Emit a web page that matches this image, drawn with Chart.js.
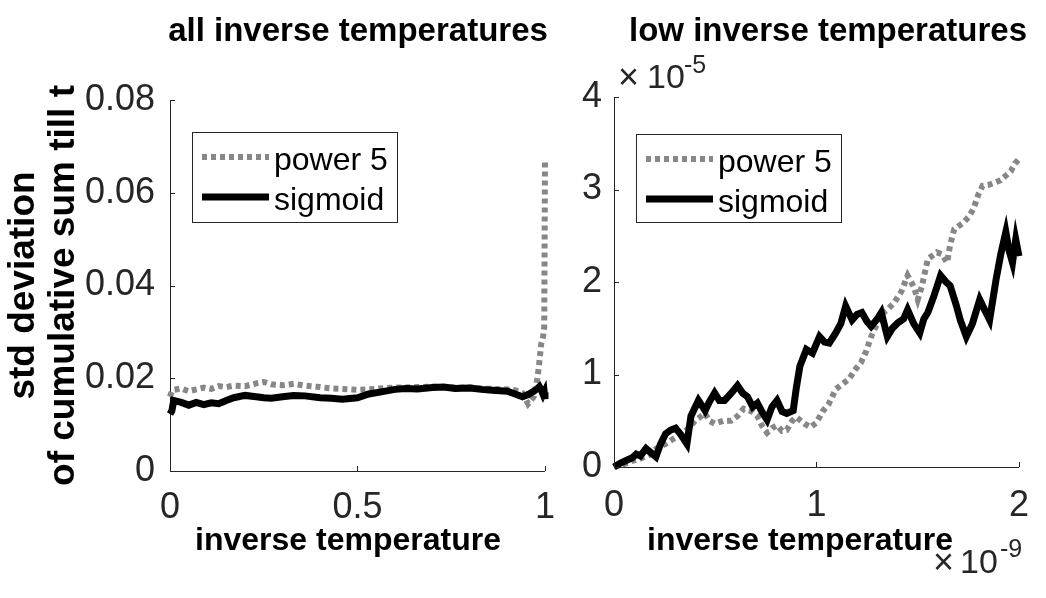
<!DOCTYPE html>
<html>
<head>
<meta charset="utf-8">
<script src="https://cdn.jsdelivr.net/npm/chart.js@4.4.1/dist/chart.umd.min.js"></script>
<style>
  html, body { margin: 0; padding: 0; background: #fff; }
  #wrap { position: relative; width: 1046px; height: 598px; overflow: hidden; }
  #wrap canvas { position: absolute; top: 0; }
  #chartAll { left: 0; }
  #chartLow { left: 570px; }
</style>
</head>
<body>
<div id="wrap">
  <canvas id="chartAll" width="570" height="598"></canvas>
  <canvas id="chartLow" width="476" height="598"></canvas>
</div>
<script>
// left panel: all inverse temperatures
const allBeta = [0, 0.005, 0.01, 0.03, 0.05, 0.07, 0.09, 0.11, 0.13, 0.15, 0.17, 0.2, 0.23, 0.25, 0.27,
  0.3, 0.33, 0.36, 0.4, 0.43, 0.46, 0.5, 0.53, 0.56, 0.6, 0.63, 0.66, 0.7, 0.73, 0.76, 0.8, 0.83, 0.86,
  0.9, 0.92, 0.94, 0.955, 0.97, 0.98, 0.985, 0.99, 0.995, 0.998, 1.0];
const allPower5 = [0.0160, 0.0172, 0.0175, 0.0178, 0.0172, 0.0176, 0.0180, 0.0177, 0.0183, 0.0181, 0.0184,
  0.0183, 0.0189, 0.0192, 0.0187, 0.0185, 0.0188, 0.0184, 0.0181, 0.0178, 0.0177, 0.0175, 0.0176, 0.0178,
  0.0180, 0.0180, 0.0181, 0.0182, 0.0181, 0.0180, 0.0180, 0.0178, 0.0177, 0.0176, 0.0174, 0.0168, 0.0145,
  0.0160, 0.0200, 0.0235, 0.0275, 0.0290, 0.0310, 0.0665];
const allSigmoid = [0.0123, 0.0130, 0.0152, 0.0148, 0.0142, 0.0148, 0.0143, 0.0147, 0.0145, 0.0152, 0.0158,
  0.0163, 0.0160, 0.0158, 0.0157, 0.0160, 0.0163, 0.0162, 0.0158, 0.0157, 0.0155, 0.0158, 0.0166, 0.0170,
  0.0176, 0.0178, 0.0177, 0.0180, 0.0181, 0.0178, 0.0179, 0.0176, 0.0174, 0.0172, 0.0166, 0.0160, 0.0165,
  0.0172, 0.0178, 0.0182, 0.0175, 0.0165, 0.0170, 0.0155];
const allXTicks = [0, 0.5, 1];
const allYTicks = [0, 0.02, 0.04, 0.06, 0.08];

// right panel: low inverse temperatures (x in 1e-9, y in 1e-5)
const lowPowerBeta = [0, 0.06, 0.094, 0.13, 0.175, 0.21, 0.255, 0.29, 0.336, 0.37, 0.40, 0.45, 0.47, 0.497,
  0.54, 0.578, 0.61, 0.64, 0.68, 0.708, 0.73, 0.756, 0.78, 0.805, 0.83, 0.853, 0.88, 0.90, 0.94, 0.97, 1.0,
  1.03, 1.06, 1.095, 1.13, 1.16, 1.19, 1.22, 1.245, 1.27, 1.3, 1.32, 1.35, 1.385, 1.42, 1.45, 1.48, 1.5,
  1.52, 1.55, 1.595, 1.62, 1.645, 1.66, 1.68, 1.725, 1.75, 1.775, 1.8, 1.82, 1.85, 1.887, 1.91, 1.935,
  1.96, 1.98, 2.0];
const lowPower5 = [0, 0.04, 0.07, 0.09, 0.13, 0.2, 0.25, 0.3, 0.36, 0.42, 0.5, 0.58, 0.5, 0.47,
  0.5, 0.5, 0.55, 0.63, 0.6, 0.55, 0.45, 0.37, 0.42, 0.45, 0.39, 0.4, 0.5, 0.54, 0.47, 0.43, 0.48,
  0.6, 0.68, 0.84, 0.9, 0.95, 1.05, 1.13, 1.25, 1.41, 1.55, 1.65, 1.7, 1.78, 1.9, 2.07, 1.95, 1.81,
  1.95, 2.25, 2.32, 2.3, 2.21, 2.4, 2.57, 2.64, 2.7, 2.79, 2.95, 3.04, 3.05, 3.08, 3.1, 3.15,
  3.2, 3.28, 3.33];
const lowSigmoidBeta = [0, 0.03, 0.06, 0.09, 0.11, 0.13, 0.158, 0.18, 0.207, 0.23, 0.255, 0.28, 0.304, 0.33,
  0.36, 0.38, 0.417, 0.45, 0.47, 0.497, 0.52, 0.546, 0.58, 0.61, 0.635, 0.659, 0.685, 0.708, 0.73, 0.756,
  0.78, 0.805, 0.83, 0.853, 0.885, 0.9, 0.918, 0.95, 0.98, 1.015, 1.04, 1.063, 1.095, 1.12, 1.144, 1.176,
  1.2, 1.224, 1.25, 1.27, 1.3, 1.32, 1.35, 1.375, 1.402, 1.43, 1.45, 1.48, 1.51, 1.53, 1.55, 1.58, 1.613,
  1.64, 1.66, 1.69, 1.71, 1.74, 1.77, 1.806, 1.83, 1.855, 1.887, 1.91, 1.935, 1.95, 1.968, 1.984, 2.0];
const lowSigmoid = [0, 0.04, 0.07, 0.1, 0.14, 0.12, 0.2, 0.16, 0.11, 0.25, 0.36, 0.4, 0.42, 0.35,
  0.25, 0.55, 0.72, 0.61, 0.7, 0.8, 0.72, 0.72, 0.8, 0.88, 0.8, 0.76, 0.65, 0.69, 0.6, 0.51,
  0.65, 0.72, 0.6, 0.58, 0.61, 0.85, 1.09, 1.27, 1.23, 1.41, 1.35, 1.34, 1.45, 1.55, 1.74, 1.59,
  1.65, 1.67, 1.57, 1.52, 1.6, 1.67, 1.41, 1.5, 1.56, 1.6, 1.7, 1.55, 1.45, 1.6, 1.67, 1.85, 2.07,
  2.0, 1.96, 1.75, 1.59, 1.41, 1.55, 1.81, 1.7, 1.59, 2.03, 2.3, 2.54, 2.35, 2.21, 2.46, 2.28];
const lowXTicks = [0, 1, 2];
const lowYTicks = [0, 1, 2, 3, 4];

const seriesNames = ['power 5', 'sigmoid'];
const GRAY = '#878787';
const AXIS = '#262626';
const FAMILY = '"Liberation Sans", Arial, Helvetica, sans-serif';

Chart.defaults.font.family = FAMILY;
Chart.defaults.color = AXIS;

const toPoints = (xs, ys) => xs.map((x, i) => ({ x: x, y: ys[i] }));

// inward tick marks, boxed legend and free text (titles, labels, exponents)
const matlabLook = {
  id: 'matlabLook',
  afterDatasetsDraw(chart, args, opts) {
    const ctx = chart.ctx;
    const area = chart.chartArea;
    const xs = chart.scales.x, ys = chart.scales.y;
    ctx.save();
    ctx.strokeStyle = AXIS;
    ctx.lineWidth = 1;
    ctx.beginPath();
    xs.ticks.forEach(t => {
      const p = Math.round(xs.getPixelForValue(t.value)) + 0.5;
      ctx.moveTo(p, area.bottom);
      ctx.lineTo(p, area.bottom - 5);
    });
    ys.ticks.forEach(t => {
      const p = Math.round(ys.getPixelForValue(t.value)) + 0.5;
      ctx.moveTo(area.left, p);
      ctx.lineTo(area.left + 5, p);
    });
    ctx.stroke();
    ctx.restore();
  },
  afterDraw(chart, args, opts) {
    const ctx = chart.ctx;
    const area = chart.chartArea;
    ctx.save();
    // legend box
    const lg = opts.legend;
    const bx = area.left + lg.dx, by = area.top + lg.dy;
    ctx.fillStyle = '#fff';
    ctx.fillRect(bx, by, lg.w, lg.h);
    ctx.strokeStyle = AXIS;
    ctx.lineWidth = 1;
    ctx.strokeRect(Math.round(bx) + 0.5, Math.round(by) + 0.5, lg.w, lg.h);
    seriesNames.forEach((name, i) => {
      const ds = chart.data.datasets.find(d => d.label === name);
      const cy = by + 25 + i * 40;
      ctx.save();
      ctx.strokeStyle = ds.borderColor;
      ctx.lineWidth = ds.borderWidth;
      ctx.setLineDash(ds.borderDash || []);
      ctx.beginPath();
      ctx.moveTo(bx + 10, cy);
      ctx.lineTo(bx + 77, cy);
      ctx.stroke();
      ctx.restore();
      ctx.fillStyle = '#000';
      ctx.font = '32px ' + FAMILY;
      ctx.textAlign = 'left';
      ctx.textBaseline = 'alphabetic';
      ctx.fillText(name, bx + 82, cy + 13);
    });
    // texts
    opts.texts.forEach(t => {
      ctx.fillStyle = t.color || '#000';
      ctx.font = t.font;
      ctx.textAlign = t.align || 'left';
      ctx.textBaseline = 'alphabetic';
      ctx.fillText(t.text, t.x, t.y);
    });
    ctx.restore();
  }
};

function makeChart(id, cfg) {
  return new Chart(document.getElementById(id), {
    type: 'line',
    data: {
      datasets: [
        {
          label: 'power 5',
          data: cfg.power,
          borderColor: GRAY,
          borderWidth: 6,
          borderDash: [5, 4],
          pointRadius: 0,
          tension: 0,
          order: 1,
          clip: 10
        },
        {
          label: 'sigmoid',
          data: cfg.sigmoid,
          borderColor: '#000',
          borderWidth: 7,
          pointRadius: 0,
          tension: 0,
          order: 0,
          clip: 10
        }
      ]
    },
    options: {
      responsive: false,
      animation: false,
      events: [],
      layout: { padding: cfg.padding },
      plugins: {
        legend: { display: false },
        tooltip: { enabled: false },
        title: { display: false },
        matlabLook: { legend: cfg.legend, texts: cfg.texts }
      },
      scales: {
        x: {
          type: 'linear',
          min: cfg.xTicks[0],
          max: cfg.xTicks[cfg.xTicks.length - 1],
          grid: { display: false, drawTicks: false },
          border: { display: true, color: AXIS, width: 1 },
          ticks: {
            autoSkip: false, maxRotation: 0, padding: cfg.xPad,
            font: { size: 36 }, color: AXIS,
            callback: v => String(v)
          },
          afterBuildTicks: s => { s.ticks = cfg.xTicks.map(v => ({ value: v })); },
          afterFit: s => { s.height = cfg.xHeight; }
        },
        y: {
          type: 'linear',
          min: cfg.yTicks[0],
          max: cfg.yTicks[cfg.yTicks.length - 1],
          grid: { display: false, drawTicks: false },
          border: { display: true, color: AXIS, width: 1 },
          ticks: {
            autoSkip: false, padding: cfg.yPad,
            font: { size: 36 }, color: AXIS,
            callback: v => String(v)
          },
          title: cfg.yTitle,
          afterBuildTicks: s => { s.ticks = cfg.yTicks.map(v => ({ value: v })); },
          afterFit: s => { s.width = cfg.yWidth; }
        }
      }
    },
    plugins: [matlabLook]
  });
}

makeChart('chartAll', {
  power: toPoints(allBeta, allPower5),
  sigmoid: toPoints(allBeta, allSigmoid),
  xTicks: allXTicks,
  yTicks: allYTicks,
  padding: { top: 100, right: 25, bottom: 0, left: 0 },
  xHeight: 127,
  yWidth: 170,
  xPad: 15,
  yPad: 15,
  yTitle: {
    display: true,
    text: ['std deviation', 'of cumulative sum till t'],
    color: '#000',
    font: { size: 37, weight: 'bold', lineHeight: 1.08 },
    padding: { top: 4, bottom: 0 }
  },
  legend: { dx: 22, dy: 32, w: 205, h: 90 },
  texts: [
    { text: 'all inverse temperatures', x: 358, y: 41, font: 'bold 33px ' + FAMILY, align: 'center' },
    { text: 'inverse temperature', x: 348, y: 550, font: 'bold 32px ' + FAMILY, align: 'center' }
  ]
});

makeChart('chartLow', {
  power: toPoints(lowPowerBeta, lowPower5),
  sigmoid: toPoints(lowSigmoidBeta, lowSigmoid),
  xTicks: lowXTicks,
  yTicks: lowYTicks,
  padding: { top: 97, right: 19, bottom: 0, left: 0 },
  xHeight: 131,
  yWidth: 44,
  xPad: 17,
  yPad: 12,
  yTitle: { display: false },
  legend: { dx: 22, dy: 37, w: 205, h: 88 },
  texts: [
    { text: 'low inverse temperatures', x: 258, y: 41, font: 'bold 33px ' + FAMILY, align: 'center' },
    { text: 'inverse temperature', x: 230, y: 550, font: 'bold 32px ' + FAMILY, align: 'center' },
    { text: '\u00d7', x: 48, y: 89, font: '36px ' + FAMILY, color: AXIS },
    { text: '10', x: 77, y: 88, font: '34px ' + FAMILY, color: AXIS },
    { text: '-5', x: 114, y: 73, font: '25px ' + FAMILY, color: AXIS },
    { text: '\u00d7', x: 363, y: 574, font: '36px ' + FAMILY, color: AXIS },
    { text: '10', x: 390, y: 573, font: '34px ' + FAMILY, color: AXIS },
    { text: '-9', x: 430, y: 557, font: '25px ' + FAMILY, color: AXIS }
  ]
});
</script>
</body>
</html>
